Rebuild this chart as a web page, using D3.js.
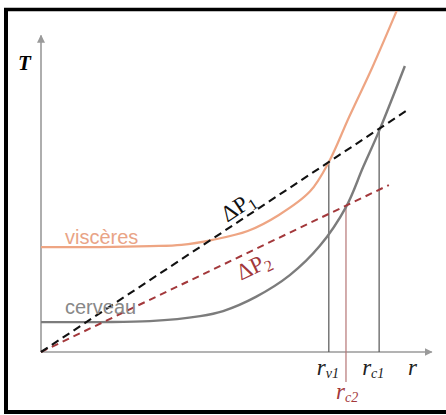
<!DOCTYPE html>
<html><head><meta charset="utf-8">
<script src="https://cdn.jsdelivr.net/npm/d3@7"></script>
<style>body{margin:0;background:#fff}svg{display:block}</style>
</head><body>
<script>
// ---- data (abstract units: r along x, T along y) ----
const visceresR = [0, 15, 28, 36, 44, 53, 61, 69, 73.8, 79, 85, 91.3];
const visceresT = [33.3, 33.3, 33.6, 34, 35.6, 38.4, 43.5, 51.0, 60.3, 74.6, 90.5, 108.6];
const cerveauR = [0, 15.1, 27.9, 40.8, 46.7, 55.1, 63.8, 71.5, 78.2, 82.6, 86.7, 93.3];
const cerveauT = [9.5, 9.5, 9.8, 11.4, 13.0, 17.5, 24.4, 33.7, 46.0, 58.7, 70.2, 90.8];
const dP1R = [0, 93.6], dP1T = [0, 76.5];
const dP2R = [0, 89.2], dP2T = [0, 53.0];
const markerNames = ["v1", "c2", "c1"];
const markerR = [73.8, 78.2, 86.7];
const markerLine = ["dP1", "dP2", "dP1"];

const W = 446, H = 415;
const x = d3.scaleLinear().domain([0, 100]).range([41, 431]);
const y = d3.scaleLinear().domain([0, 100]).range([352, 37]);

const svg = d3.select("body").append("svg").attr("width", W).attr("height", H);
const defs = svg.append("defs");
defs.append("clipPath").attr("id", "clip").append("rect")
  .attr("x", 8).attr("y", 11).attr("width", W).attr("height", 399);
defs.append("marker").attr("id", "arr").attr("viewBox", "0 0 10 10")
  .attr("refX", 9).attr("refY", 5).attr("markerWidth", 8).attr("markerHeight", 8)
  .attr("markerUnits", "userSpaceOnUse").attr("orient", "auto")
  .append("path").attr("d", "M0,0L10,5L0,10Z").attr("fill", "#9a9a9a");

// frame
svg.append("line").attr("x1", 6).attr("x2", 6).attr("y1", 8).attr("y2", 414).attr("stroke", "#000").attr("stroke-width", 4);
svg.append("line").attr("x1", 4).attr("x2", W).attr("y1", 9.5).attr("y2", 9.5).attr("stroke", "#000").attr("stroke-width", 3.5);
svg.append("line").attr("x1", 4).attr("x2", W).attr("y1", 412).attr("y2", 412).attr("stroke", "#000").attr("stroke-width", 4);

// axes
const ax = svg.append("g").attr("stroke", "#9a9a9a").attr("stroke-width", 1.6);
ax.append("line").attr("x1", x(0)).attr("y1", y(0)).attr("x2", x(0)).attr("y2", y(100.5)).attr("marker-end", "url(#arr)");
ax.append("line").attr("x1", x(0)).attr("y1", y(0)).attr("x2", x(100.2)).attr("y2", y(0)).attr("marker-end", "url(#arr)");

const zip = (a, b) => a.map((v, i) => [v, b[i]]);
const line = d3.line().x(d => x(d[0])).y(d => y(d[1])).curve(d3.curveCatmullRom.alpha(0.5));
const g = svg.append("g").attr("clip-path", "url(#clip)");

// vertical marker lines
const lines = { dP1: [dP1R, dP1T], dP2: [dP2R, dP2T] };
markerR.forEach((r, i) => {
  const [lr, lt] = lines[markerLine[i]];
  const top = lt[1] / lr[1] * r;
  const red = markerNames[i] === "c2";
  g.append("line").attr("x1", x(r)).attr("x2", x(r)).attr("y1", y(top))
    .attr("y2", red ? y(-9.5) : y(0))
    .attr("stroke", red ? "#b57575" : "#555").attr("stroke-width", 1.2);
});

g.append("path").attr("d", line(zip(visceresR, visceresT))).attr("fill", "none")
  .attr("stroke", "#eea583").attr("stroke-width", 2.2);
g.append("path").attr("d", line(zip(cerveauR, cerveauT))).attr("fill", "none")
  .attr("stroke", "#7c7c7c").attr("stroke-width", 2.4);

g.append("path").attr("d", d3.line().x(d => x(d[0])).y(d => y(d[1]))(zip(dP2R, dP2T)))
  .attr("stroke", "#a3383b").attr("stroke-width", 2).attr("stroke-dasharray", "7,5").attr("fill", "none");
g.append("path").attr("d", d3.line().x(d => x(d[0])).y(d => y(d[1]))(zip(dP1R, dP1T)))
  .attr("stroke", "#111").attr("stroke-width", 2.1).attr("stroke-dasharray", "8,5").attr("fill", "none");

// text labels
svg.append("text").attr("x", 18).attr("y", 70).text("T")
  .attr("font-family", "Liberation Serif").attr("font-style", "italic").attr("font-weight", "bold").attr("font-size", 21);
svg.append("text").attr("x", 65).attr("y", 244).text("viscères")
  .attr("font-family", "Liberation Sans, Arial").attr("font-size", 20).attr("fill", "#e9a486");
svg.append("text").attr("x", 65).attr("y", 314).text("cerveau")
  .attr("font-family", "Liberation Sans, Arial").attr("font-size", 20).attr("fill", "#888");

function dpLabel(cx, cy, ang, sub, col) {
  const t = svg.append("text").attr("transform", `translate(${cx},${cy}) rotate(${ang})`)
    .attr("text-anchor", "middle").attr("font-family", "Liberation Serif").attr("font-size", 23).attr("fill", col);
  t.append("tspan").text("ΔP");
  t.append("tspan").attr("font-size", 16).attr("dy", 4).text(sub);
}
const a1 = -Math.atan2(y(0) - y(dP1T[1]), x(dP1R[1]) - x(0)) * 180 / Math.PI;
const a2 = -Math.atan2(y(0) - y(dP2T[1]), x(dP2R[1]) - x(0)) * 180 / Math.PI;
dpLabel(242, 213, a1, "1", "#111");
dpLabel(257, 273, a2, "2", "#a3383b");

function rLabel(px, py, sub, col) {
  const t = svg.append("text").attr("x", px).attr("y", py).attr("font-family", "Liberation Serif")
    .attr("font-style", "italic").attr("font-size", 23).attr("fill", col);
  t.append("tspan").text("r");
  if (sub) t.append("tspan").attr("font-size", 14).attr("dy", 3).text(sub);
}
rLabel(x(markerR[0]) - 12, 375, "v1", "#222");
rLabel(x(markerR[2]) - 17, 375, "c1", "#222");
rLabel(x(markerR[1]) - 10, 399, "c2", "#a3383b");
rLabel(408, 375, "", "#222");
</script>
</body></html>
